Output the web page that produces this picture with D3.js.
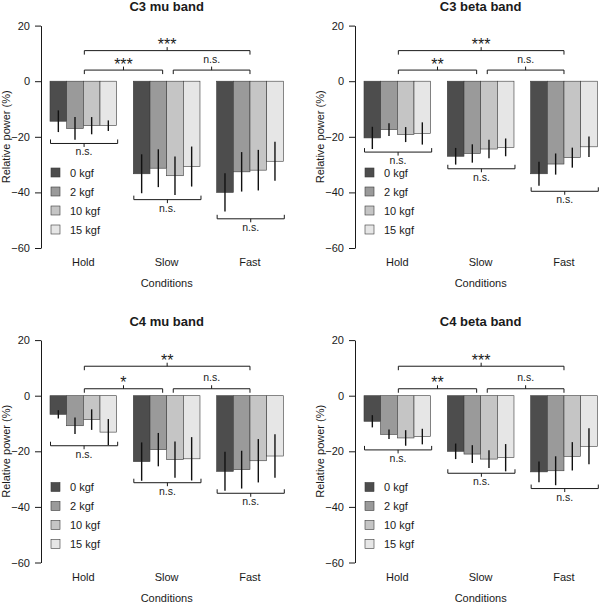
<!DOCTYPE html>
<html>
<head>
<meta charset="utf-8">
<script src="https://cdn.jsdelivr.net/npm/d3@7"></script>
<style>
  body { margin: 0; background: #fff; }
  text { font-family: "Liberation Sans", Arial, sans-serif; fill: #1a1a1a; }
</style>
</head>
<body>
<svg id="fig" width="600" height="602"></svg>
<script>
// ---- data ----
const conditions = ["Hold", "Slow", "Fast"];
const loads = ["0 kgf", "2 kgf", "10 kgf", "15 kgf"];
const yTicks = [20, 0, -20, -40, -60];
const titles = ["C3 mu band", "C3 beta band", "C4 mu band", "C4 beta band"];

// mean relative power per condition (rows) and load (cols)
const c3MuMean   = [[-14.4, -17.0, -16.0, -16.0], [-33.3, -31.3, -34.0, -30.7], [-40.0, -32.6, -32.0, -28.8]];
const c3MuErr    = [[3.9, 4.1, 3.1, 1.9], [7.0, 6.8, 6.9, 7.2], [6.9, 7.1, 7.3, 7.0]];
const c3BetaMean = [[-20.4, -17.4, -19.2, -18.8], [-27.0, -26.0, -24.4, -23.8], [-33.3, -29.8, -27.5, -23.6]];
const c3BetaErr  = [[4.0, 2.3, 2.7, 4.0], [3.0, 3.3, 3.3, 3.2], [4.3, 3.8, 3.6, 3.7]];
const c4MuMean   = [[-6.7, -10.8, -8.6, -13.1], [-23.7, -19.4, -23.0, -22.7], [-27.2, -26.6, -23.4, -21.7]];
const c4MuErr    = [[1.5, 3.0, 3.7, 4.7], [6.9, 6.0, 6.5, 7.8], [7.0, 6.8, 7.8, 7.8]];
const c4BetaMean = [[-9.2, -13.9, -15.2, -14.7], [-20.0, -21.0, -22.8, -22.3], [-27.4, -27.0, -21.8, -18.2]];
const c4BetaErr  = [[2.2, 1.7, 2.8, 2.8], [2.8, 3.2, 3.2, 4.9], [3.7, 5.2, 5.1, 6.5]];

// significance: [Hold vs Fast, Hold vs Slow, Slow vs Fast]
const sigLabels = [["***", "***", "n.s."], ["***", "**", "n.s."], ["**", "*", "n.s."], ["***", "**", "n.s."]];
// bracket levels (top, second) in % units
const sigLevels = [[11, 4], [11, 4], [10.6, 2.5], [10.6, 2.5]];
// level of the within-condition "n.s." brackets
const nsLevels = [[-22.4, -42.6, -49.5], [-25.5, -31.5, -39.6], [-18.0, -31.3, -35.1], [-19.5, -27.9, -33.4]];

const means = [c3MuMean, c3BetaMean, c4MuMean, c4BetaMean];
const errs = [c3MuErr, c3BetaErr, c4MuErr, c4BetaErr];
const fills = ["#4d4d4d", "#9a9a9a", "#c5c5c5", "#e6e6e6"];

const svg = d3.select("#fig");

titles.forEach((title, i) => {
  const g = svg.append("g")
    .attr("transform", `translate(${(i % 2) * 314},${Math.floor(i / 2) * 314.5})`);

  const x = d3.scaleBand().domain(conditions).range([50, 283.3]).paddingInner(0.2);
  const xi = d3.scaleBand().domain(loads).range([0, x.bandwidth()]);
  const y = d3.scaleLinear().domain([-60, 20]).range([248, 25.6]);
  const color = d3.scaleOrdinal().domain(loads).range(fills);

  // y axis
  const ax = g.append("g")
    .attr("transform", "translate(41,0)")
    .call(d3.axisLeft(y).tickValues(yTicks).tickSize(6).tickSizeOuter(0).tickPadding(5));
  ax.select(".domain").attr("stroke", "#1a1a1a");
  ax.selectAll(".tick line").attr("stroke", "#1a1a1a");
  ax.selectAll(".tick text").attr("font-size", 11).attr("font-family", null);

  // bars
  const rows = conditions.flatMap((c, ci) => loads.map((l, li) => ({
    c, l, v: means[i][ci][li], e: errs[i][ci][li]
  })));
  g.selectAll(".bar").data(rows).enter().append("rect")
    .attr("class", "bar")
    .attr("x", d => x(d.c) + xi(d.l))
    .attr("width", xi.bandwidth())
    .attr("y", y(0))
    .attr("height", d => y(d.v) - y(0))
    .attr("fill", d => color(d.l))
    .attr("stroke", "#3a3a3a")
    .attr("stroke-width", 0.6);

  g.selectAll(".err").data(rows).enter().append("line")
    .attr("class", "err")
    .attr("x1", d => x(d.c) + xi(d.l) + xi.bandwidth() / 2)
    .attr("x2", d => x(d.c) + xi(d.l) + xi.bandwidth() / 2)
    .attr("y1", d => y(d.v + d.e))
    .attr("y2", d => y(d.v - d.e))
    .attr("stroke", "#111")
    .attr("stroke-width", 1.4);

  // brackets between conditions
  const cx = c => x(c) + x.bandwidth() / 2;
  const topBrackets = [
    { x1: cx("Hold") + 1, x2: cx("Fast"), lev: sigLevels[i][0], lab: sigLabels[i][0] },
    { x1: cx("Hold") + 1, x2: cx("Slow") - 4, lev: sigLevels[i][1], lab: sigLabels[i][1] },
    { x1: cx("Slow") + 6.6, x2: cx("Fast"), lev: sigLevels[i][1], lab: sigLabels[i][2] }
  ];
  topBrackets.forEach(b => {
    const yy = y(b.lev), mid = (b.x1 + b.x2) / 2;
    g.append("path")
      .attr("d", `M${b.x1},${yy + 4}V${yy}H${b.x2}V${yy + 4}M${mid},${yy}V${yy - 3.5}`)
      .attr("fill", "none").attr("stroke", "#1a1a1a").attr("stroke-width", 1);
    const star = b.lab !== "n.s.";
    g.append("text")
      .attr("x", mid)
      .attr("y", star ? yy - 0.5 : yy - 7.3)
      .attr("text-anchor", "middle")
      .attr("font-size", star ? 16 : 10.5)
      .text(b.lab);
  });

  // within-condition brackets
  conditions.forEach((c, ci) => {
    const yy = y(nsLevels[i][ci]);
    const x1 = x(c) + 0.5, x2 = x(c) + x.bandwidth() + 1, mid = (x1 + x2) / 2;
    g.append("path")
      .attr("d", `M${x1},${yy - 4}V${yy}H${x2}V${yy - 4}M${mid},${yy}V${yy + 3.5}`)
      .attr("fill", "none").attr("stroke", "#1a1a1a").attr("stroke-width", 1);
    g.append("text")
      .attr("x", mid).attr("y", yy + 12)
      .attr("text-anchor", "middle").attr("font-size", 10.5)
      .text("n.s.");
  });

  // condition labels
  g.selectAll(".clab").data(conditions).enter().append("text")
    .attr("class", "clab")
    .attr("x", d => cx(d)).attr("y", 266)
    .attr("text-anchor", "middle").attr("font-size", 11)
    .text(d => d);

  g.append("text")
    .attr("x", cx("Slow")).attr("y", 287)
    .attr("text-anchor", "middle").attr("font-size", 11)
    .text("Conditions");

  g.append("text")
    .attr("transform", `translate(9.5,${(y(20) + y(-60)) / 2}) rotate(-90)`)
    .attr("text-anchor", "middle").attr("font-size", 11)
    .text("Relative power (%)");

  g.append("text")
    .attr("x", cx("Slow")).attr("y", 11)
    .attr("text-anchor", "middle").attr("font-size", 13).attr("font-weight", "bold")
    .text(title);

  // legend
  const leg = g.append("g");
  loads.forEach((l, li) => {
    const ly = 172.5 + li * 19;
    leg.append("rect")
      .attr("x", 51).attr("y", ly - 4.5).attr("width", 9).attr("height", 9)
      .attr("fill", color(l)).attr("stroke", "#3a3a3a").attr("stroke-width", 0.6);
    leg.append("text")
      .attr("x", 70).attr("y", ly + 4)
      .attr("font-size", 11)
      .text(l);
  });
});
</script>
</body>
</html>
